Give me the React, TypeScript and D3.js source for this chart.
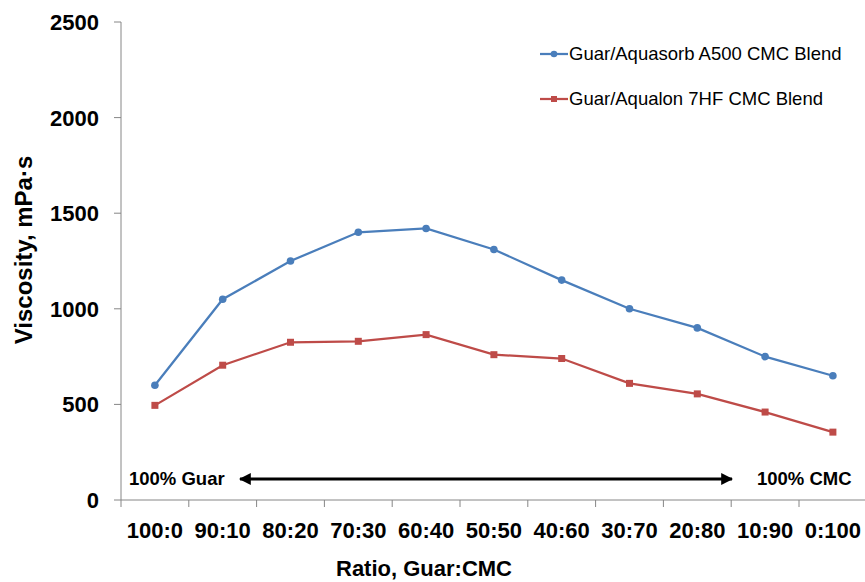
import { useEffect, useRef } from 'react';
import * as d3 from 'd3';

const ratios = ['100:0', '90:10', '80:20', '70:30', '60:40', '50:50', '40:60', '30:70', '20:80', '10:90', '0:100'];
const aquasorb = [600, 1050, 1250, 1400, 1420, 1310, 1150, 1000, 900, 750, 650];
const aqualon = [495, 705, 825, 830, 865, 760, 740, 610, 555, 460, 355];
const yTicks = [0, 500, 1000, 1500, 2000, 2500];
const seriesNames = ['Guar/Aquasorb A500 CMC Blend', 'Guar/Aqualon 7HF CMC Blend'];

const FONT = '"Liberation Sans", Arial, sans-serif';
const BLUE = '#4a7ebb';
const RED = '#be4b48';
const AXIS = '#868686';

export default function App() {
  const svgRef = useRef<SVGSVGElement | null>(null);

  useEffect(() => {
    if (!svgRef.current) return;
    const svg = d3.select(svgRef.current);
    svg.selectAll('*').remove();

    const left = 121, top = 22, bottom = 500;
    const band = 67.8;

    const x = d3.scaleBand()
      .domain(ratios)
      .range([left, left + band * ratios.length])
      .paddingInner(0)
      .paddingOuter(0);

    const y = d3.scaleLinear()
      .domain([0, 2500])
      .range([bottom, top]);

    const cx = (d: string) => (x(d) || 0) + x.bandwidth() / 2;

    // y axis
    const gy = svg.append('g').attr('transform', `translate(${left},0)`);
    gy.append('line')
      .attr('x1', 0).attr('x2', 0)
      .attr('y1', top).attr('y2', bottom)
      .attr('stroke', AXIS).attr('stroke-width', 1);
    gy.selectAll('.ytick')
      .data(yTicks)
      .join('line')
      .attr('class', 'ytick')
      .attr('x1', -7).attr('x2', 0)
      .attr('y1', d => y(d)).attr('y2', d => y(d))
      .attr('stroke', AXIS);
    gy.selectAll('.ylabel')
      .data(yTicks)
      .join('text')
      .attr('class', 'ylabel')
      .attr('x', -22)
      .attr('y', d => y(d))
      .attr('dy', '0.36em')
      .attr('text-anchor', 'end')
      .attr('font-family', FONT)
      .attr('font-weight', 'bold')
      .attr('font-size', 22)
      .text(d => d);

    // x axis
    const gx = svg.append('g').attr('transform', `translate(0,${bottom})`);
    gx.append('line')
      .attr('x1', left).attr('x2', 865)
      .attr('stroke', AXIS);
    const edges = ratios.map(r => (x(r) || 0)).concat([left + band * ratios.length]);
    gx.selectAll('.xtick')
      .data(edges)
      .join('line')
      .attr('class', 'xtick')
      .attr('x1', d => d).attr('x2', d => d)
      .attr('y1', 0).attr('y2', 7)
      .attr('stroke', AXIS);
    gx.selectAll('.xlabel')
      .data(ratios)
      .join('text')
      .attr('class', 'xlabel')
      .attr('x', d => cx(d))
      .attr('y', 38)
      .attr('text-anchor', 'middle')
      .attr('font-family', FONT)
      .attr('font-weight', 'bold')
      .attr('font-size', 22)
      .text(d => d);

    // axis titles
    svg.append('text')
      .attr('x', 424).attr('y', 576)
      .attr('text-anchor', 'middle')
      .attr('font-family', FONT)
      .attr('font-weight', 'bold')
      .attr('font-size', 22)
      .text('Ratio, Guar:CMC');
    svg.append('text')
      .attr('transform', 'translate(32,250) rotate(-90)')
      .attr('text-anchor', 'middle')
      .attr('font-family', FONT)
      .attr('font-weight', 'bold')
      .attr('font-size', 24)
      .text('Viscosity, mPa·s');

    // series
    const line = d3.line<number>()
      .x((_, i) => cx(ratios[i]))
      .y(d => y(d));

    svg.append('path')
      .datum(aquasorb)
      .attr('d', line)
      .attr('fill', 'none')
      .attr('stroke', BLUE)
      .attr('stroke-width', 2.25);
    svg.append('path')
      .datum(aqualon)
      .attr('d', line)
      .attr('fill', 'none')
      .attr('stroke', RED)
      .attr('stroke-width', 2.25);

    svg.selectAll('.dot')
      .data(aquasorb)
      .join('circle')
      .attr('class', 'dot')
      .attr('cx', (_, i) => cx(ratios[i]))
      .attr('cy', d => y(d))
      .attr('r', 3.8)
      .attr('fill', BLUE);
    svg.selectAll('.sq')
      .data(aqualon)
      .join('rect')
      .attr('class', 'sq')
      .attr('x', (_, i) => cx(ratios[i]) - 3.5)
      .attr('y', d => y(d) - 3.5)
      .attr('width', 7)
      .attr('height', 7)
      .attr('fill', RED);

    // legend
    const legend = svg.append('g').attr('transform', 'translate(540,54)');
    seriesNames.forEach((name, i) => {
      const g = legend.append('g').attr('transform', `translate(0,${i * 45})`);
      const color = i === 0 ? BLUE : RED;
      g.append('line').attr('x1', 0).attr('x2', 28).attr('stroke', color).attr('stroke-width', 2.25);
      if (i === 0) g.append('circle').attr('cx', 14).attr('r', 3.3).attr('fill', color);
      else g.append('rect').attr('x', 11).attr('y', -3).attr('width', 6).attr('height', 6).attr('fill', color);
      g.append('text')
        .attr('x', 29).attr('y', 0).attr('dy', '0.35em')
        .attr('font-family', FONT)
        .attr('font-size', 18.5)
        .text(name);
    });

    // annotation arrow
    const defs = svg.append('defs');
    defs.append('marker')
      .attr('id', 'ah')
      .attr('viewBox', '0 0 10 10')
      .attr('refX', 9).attr('refY', 5)
      .attr('markerWidth', 4).attr('markerHeight', 4)
      .attr('orient', 'auto-start-reverse')
      .append('path')
      .attr('d', 'M0,0 L10,5 L0,10 Z')
      .attr('fill', '#000');
    svg.append('line')
      .attr('x1', 240).attr('x2', 732)
      .attr('y1', 479).attr('y2', 479)
      .attr('stroke', '#000')
      .attr('stroke-width', 3)
      .attr('marker-start', 'url(#ah)')
      .attr('marker-end', 'url(#ah)');
    svg.append('text')
      .attr('x', 129).attr('y', 479).attr('dy', '0.35em')
      .attr('font-family', FONT).attr('font-weight', 'bold').attr('font-size', 18.5)
      .text('100% Guar');
    svg.append('text')
      .attr('x', 757).attr('y', 479).attr('dy', '0.35em')
      .attr('font-family', FONT).attr('font-weight', 'bold').attr('font-size', 18.5)
      .text('100% CMC');
  }, []);

  return (
    <svg
      ref={svgRef}
      width={865}
      height={582}
      style={{ position: 'absolute', left: 0, top: 0, background: '#fff' }}
    />
  );
}
